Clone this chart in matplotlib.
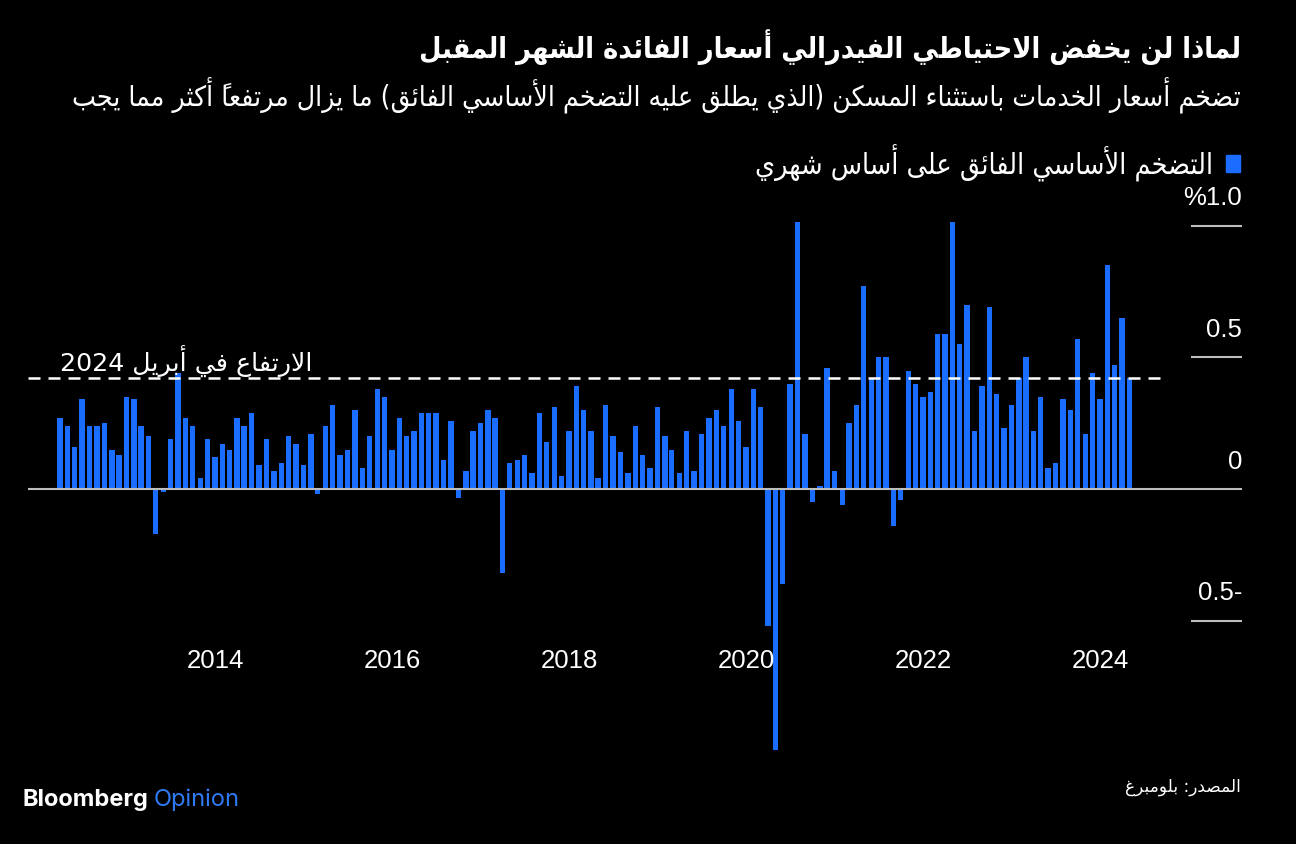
import re
import matplotlib
matplotlib.use('Agg')
import matplotlib.pyplot as plt
import matplotlib.transforms as mtransforms
import pandas as pd

# --- data: monthly supercore inflation (%), Mar 2012 .. Apr 2024 ---
first_month = '2012-03'
supercore_mom = [
    0.27, 0.24, 0.16, 0.34, 0.24, 0.24, 0.25, 0.15, 0.13, 0.35,               # 2012 (Mar-Dec)
    0.34, 0.24, 0.20, -0.17, -0.01, 0.19, 0.44, 0.27, 0.24, 0.04, 0.19, 0.12,  # 2013
    0.17, 0.15, 0.27, 0.24, 0.29, 0.09, 0.19, 0.07, 0.10, 0.20, 0.17, 0.09,   # 2014
    0.21, -0.02, 0.24, 0.32, 0.13, 0.15, 0.30, 0.08, 0.20, 0.38, 0.35, 0.15,  # 2015
    0.27, 0.20, 0.22, 0.29, 0.29, 0.29, 0.11, 0.26, -0.035, 0.07, 0.22, 0.25, # 2016
    0.30, 0.27, -0.32, 0.10, 0.11, 0.13, 0.06, 0.29, 0.18, 0.31, 0.05, 0.22,  # 2017
    0.39, 0.30, 0.22, 0.04, 0.32, 0.20, 0.14, 0.06, 0.24, 0.13, 0.08, 0.31,   # 2018
    0.20, 0.15, 0.06, 0.22, 0.07, 0.21, 0.27, 0.30, 0.24, 0.38, 0.26, 0.16,   # 2019
    0.38, 0.31, -0.52, -0.99, -0.36, 0.40, 1.015, 0.21, -0.05, 0.01, 0.46, 0.07,  # 2020
    -0.06, 0.25, 0.32, 0.77, 0.42, 0.50, 0.50, -0.14, -0.04, 0.45, 0.40, 0.35,    # 2021
    0.37, 0.59, 0.59, 1.015, 0.55, 0.70, 0.22, 0.39, 0.69, 0.36, 0.23, 0.32,      # 2022
    0.42, 0.50, 0.22, 0.35, 0.08, 0.10, 0.34, 0.30, 0.57, 0.21, 0.44, 0.34,       # 2023
    0.85, 0.47, 0.65, 0.42,                                                       # 2024
]
year_ticks = [2014, 2016, 2018, 2020, 2022, 2024]
y_ticks = [1.0, 0.5, 0.0, -0.5]
y_tick_labels = ['%1.0', '0.5', '0', '0.5-']

title = 'لماذا لن يخفض الاحتياطي الفيدرالي أسعار الفائدة الشهر المقبل'
subtitle = 'تضخم أسعار الخدمات باستثناء المسكن (الذي يطلق عليه التضخم الأساسي الفائق) ما يزال مرتفعاً أكثر مما يجب'
legend_label = 'التضخم الأساسي الفائق على أساس شهري'
note_label = 'الارتفاع في أبريل 2024'
source_label = 'المصدر: بلومبرغ'

BLUE = '#1a6dff'
GRID = '#bdbdbd'

# --- minimal arabic shaping (matplotlib has no complex text layout) ---
FORMS = {
    '\u0621': (0xFE80, 1), '\u0622': (0xFE81, 2), '\u0623': (0xFE83, 2), '\u0624': (0xFE85, 2),
    '\u0625': (0xFE87, 2), '\u0626': (0xFE89, 4), '\u0627': (0xFE8D, 2), '\u0628': (0xFE8F, 4),
    '\u0629': (0xFE93, 2), '\u062A': (0xFE95, 4), '\u062B': (0xFE99, 4), '\u062C': (0xFE9D, 4),
    '\u062D': (0xFEA1, 4), '\u062E': (0xFEA5, 4), '\u062F': (0xFEA9, 2), '\u0630': (0xFEAB, 2),
    '\u0631': (0xFEAD, 2), '\u0632': (0xFEAF, 2), '\u0633': (0xFEB1, 4), '\u0634': (0xFEB5, 4),
    '\u0635': (0xFEB9, 4), '\u0636': (0xFEBD, 4), '\u0637': (0xFEC1, 4), '\u0638': (0xFEC5, 4),
    '\u0639': (0xFEC9, 4), '\u063A': (0xFECD, 4), '\u0641': (0xFED1, 4), '\u0642': (0xFED5, 4),
    '\u0643': (0xFED9, 4), '\u0644': (0xFEDD, 4), '\u0645': (0xFEE1, 4), '\u0646': (0xFEE5, 4),
    '\u0647': (0xFEE9, 4), '\u0648': (0xFEED, 2), '\u0649': (0xFEEF, 2), '\u064A': (0xFEF1, 4),
}
LAM_ALEF = {'\u0622': 0xFEF5, '\u0623': 0xFEF7, '\u0625': 0xFEF9, '\u0627': 0xFEFB}


def is_mark(c):
    return '\u064B' <= c <= '\u0652'


def kind(c):
    return FORMS[c][1] if c in FORMS else 0


def ar(text):
    """Shape arabic letters and reorder for left-to-right drawing"""
    n = len(text)
    out = []
    i = 0
    while i < n:
        c = text[i]
        if c not in FORMS:
            out.append(c)
            i += 1
            continue
        j = i - 1
        while j >= 0 and is_mark(text[j]):
            j -= 1
        prev_joins = j >= 0 and kind(text[j]) == 4
        k = i + 1
        while k < n and is_mark(text[k]):
            k += 1
        nxt = text[k] if k < n else ''
        if c == '\u0644' and nxt in LAM_ALEF:
            out.append(chr(LAM_ALEF[nxt] + (1 if prev_joins else 0)))
            i = k + 1
            continue
        base, nf = FORMS[c]
        next_joins = nf == 4 and kind(nxt) in (2, 4)
        if nf == 1:
            form = 0
        elif prev_joins and next_joins:
            form = 3
        elif prev_joins:
            form = 1
        elif next_joins:
            form = 2
        else:
            form = 0
        out.append(chr(base + form))
        i += 1
    r = ''.join(out)[::-1].translate(str.maketrans('()', ')('))
    return re.sub(r'[0-9A-Za-z.%]+', lambda m: m.group(0)[::-1], r)


plt.rcParams['font.family'] = ['DejaVu Sans']
W, H = 1296, 844
fig = plt.figure(figsize=(W / 100, H / 100), dpi=100, facecolor='black')
renderer = fig.canvas.get_renderer()


def fit(txt, width_px):
    bb = txt.get_window_extent(renderer=renderer)
    txt.set_fontsize(txt.get_fontsize() * width_px / bb.width)


def px(x, y):
    return x / W, 1 - y / H


# axes: x 28..1242 px, y 210..760 px (zero at 489, 263 px per 1%)
ax = fig.add_axes([28 / W, 84 / H, 1214 / W, 550 / H])
ax.set_facecolor('black')
for s in ax.spines.values():
    s.set_visible(False)
ax.set_xticks([])
ax.set_yticks([])

dates = pd.date_range(first_month + '-01', periods=len(supercore_mom) + 1, freq='MS')[1:] - pd.Timedelta(days=1)
ax.bar(dates, supercore_mom, width=22, color=BLUE, zorder=2)

px_per_day = 1069.3 / (dates[-1] - dates[0]).days
ax.set_xlim(dates[0] - pd.Timedelta(days=(60 - 28) / px_per_day),
            dates[-1] + pd.Timedelta(days=(1242 - 1129.3) / px_per_day))
ax.set_ylim(-(760 - 489) / 263.3, (489 - 210) / 263.3)

# zero line and short right-side gridlines
ax.axhline(0, color=GRID, lw=1.5, zorder=3)
for v, lab in zip(y_ticks, y_tick_labels):
    if v != 0:
        ax.axhline(v, xmin=(1192 - 28) / 1214, xmax=1, color=GRID, lw=1.5, zorder=3)
    ax.text(1.0, v + 0.104, lab, transform=mtransforms.blended_transform_factory(ax.transAxes, ax.transData),
            ha='right', va='center', color='white', fontsize=18.5, family='Liberation Sans', clip_on=False)

# year labels
trans_x = mtransforms.blended_transform_factory(ax.transData, ax.transAxes)
for yr in year_ticks:
    ax.text(pd.Timestamp(f'{yr}-01-01'), (760 - 661) / 550, str(yr), transform=trans_x,
            ha='center', va='center', color='white', fontsize=18.5, family='Liberation Sans')

# april 2024 reference line
last = supercore_mom[-1]
ax.axhline(last, xmin=0, xmax=(1160 - 28) / 1214, color='white', lw=1.8,
           linestyle=(0, (4.8, 3.2)), zorder=4)
t = ax.text((60 - 28) / 1214, (489 - 361) / 263.3, ar(note_label), color='white', fontsize=17,
            ha='left', va='center', transform=mtransforms.blended_transform_factory(ax.transAxes, ax.transData))
fit(t, 252)

# header
t = fig.text(*px(1241, 47), ar(title), color='white', fontsize=24, fontweight='bold',
             fontstretch='condensed', ha='right', va='center')
fit(t, 826)
t = fig.text(*px(1241, 96), ar(subtitle), color='white', fontsize=20, fontstretch='condensed',
             ha='right', va='center')
fit(t, 1166)

# legend
fig.patches.append(plt.Rectangle(px(1226, 172), 14 / W, 17 / H, transform=fig.transFigure,
                                 color=BLUE, figure=fig))
t = fig.text(*px(1213, 163), ar(legend_label), color='white', fontsize=18, fontstretch='condensed',
             ha='right', va='center')
fit(t, 458)

# footer
t = fig.text(*px(1241, 787), ar(source_label), color='white', fontsize=12, ha='right', va='center')
fit(t, 116)
b = fig.text(*px(22, 800), 'Bloomberg', color='white', fontsize=17, fontweight='bold',
             family='Inter', ha='left', va='center')
bb = b.get_window_extent(renderer=renderer)
fig.text(*px(bb.x1 + 6, 800), 'Opinion', color='#2f7bf5', fontsize=17, family='Inter',
         ha='left', va='center')

fig.savefig('out.png', dpi=100, facecolor='black')
